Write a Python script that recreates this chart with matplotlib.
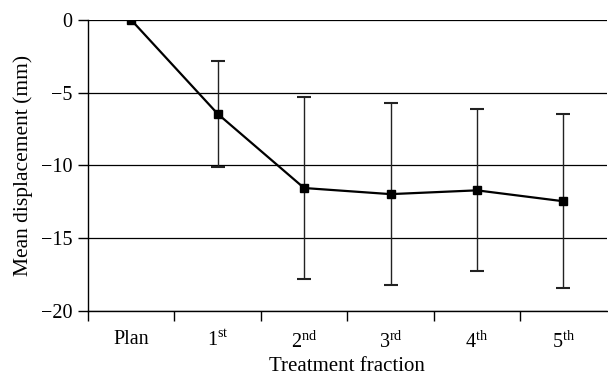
import numpy as np
import matplotlib
matplotlib.use("Agg")
import matplotlib.pyplot as plt

plt.rcParams['font.family'] = ['Liberation Serif', 'DejaVu Serif']
plt.rcParams['mathtext.fontset'] = 'custom'
plt.rcParams['mathtext.rm'] = 'Liberation Serif'

# data
fractions = ['Plan', '1$^{\\mathrm{st}}$', '2$^{\\mathrm{nd}}$', '3$^{\\mathrm{rd}}$',
             '4$^{\\mathrm{th}}$', '5$^{\\mathrm{th}}$']
mean_disp = [0.0, -6.45, -11.55, -11.97, -11.71, -12.46]
err_disp = [0.0, 3.65, 6.28, 6.25, 5.56, 5.98]

fig = plt.figure(figsize=(6.08, 3.83), dpi=100)
ax = fig.add_axes([0.1447, 0.188, 0.853, 0.760])

x = np.arange(len(fractions))
ax.errorbar(x[1:], mean_disp[1:], yerr=err_disp[1:], fmt='none',
            ecolor='#222222', elinewidth=1.0, capsize=5.2, capthick=1.5, zorder=2)
ax.plot(x, mean_disp, color='black', lw=1.6, marker='s', ms=6.2, zorder=3)

ax.set_xlim(-0.5, len(fractions) - 0.5)
ax.set_ylim(-20, 0)
ax.set_yticks([0, -5, -10, -15, -20])
ax.yaxis.grid(True, color='black', lw=0.9)
ax.set_axisbelow(True)

# ticks at category boundaries, labels at centres
ax.set_xticks(np.arange(-0.5, len(fractions) - 0.5))
ax.set_xticklabels([])
ax.set_xticks(x, minor=True)
ax.set_xticklabels(fractions, minor=True, fontsize=14.5)
ax.tick_params(axis='x', which='minor', length=0, pad=14)
ax.tick_params(axis='x', which='major', length=7, width=1, direction='out')
ax.tick_params(axis='y', length=7, width=1, labelsize=14.5, pad=4)

for s in ['top', 'right']:
    ax.spines[s].set_visible(False)
for s in ['left', 'bottom']:
    ax.spines[s].set_linewidth(1.0)

ax.set_ylabel('Mean displacement (mm)', fontsize=15.5, labelpad=6)
ax.set_xlabel('Treatment fraction', fontsize=15, labelpad=3)

fig.savefig('out.png', dpi=100)
